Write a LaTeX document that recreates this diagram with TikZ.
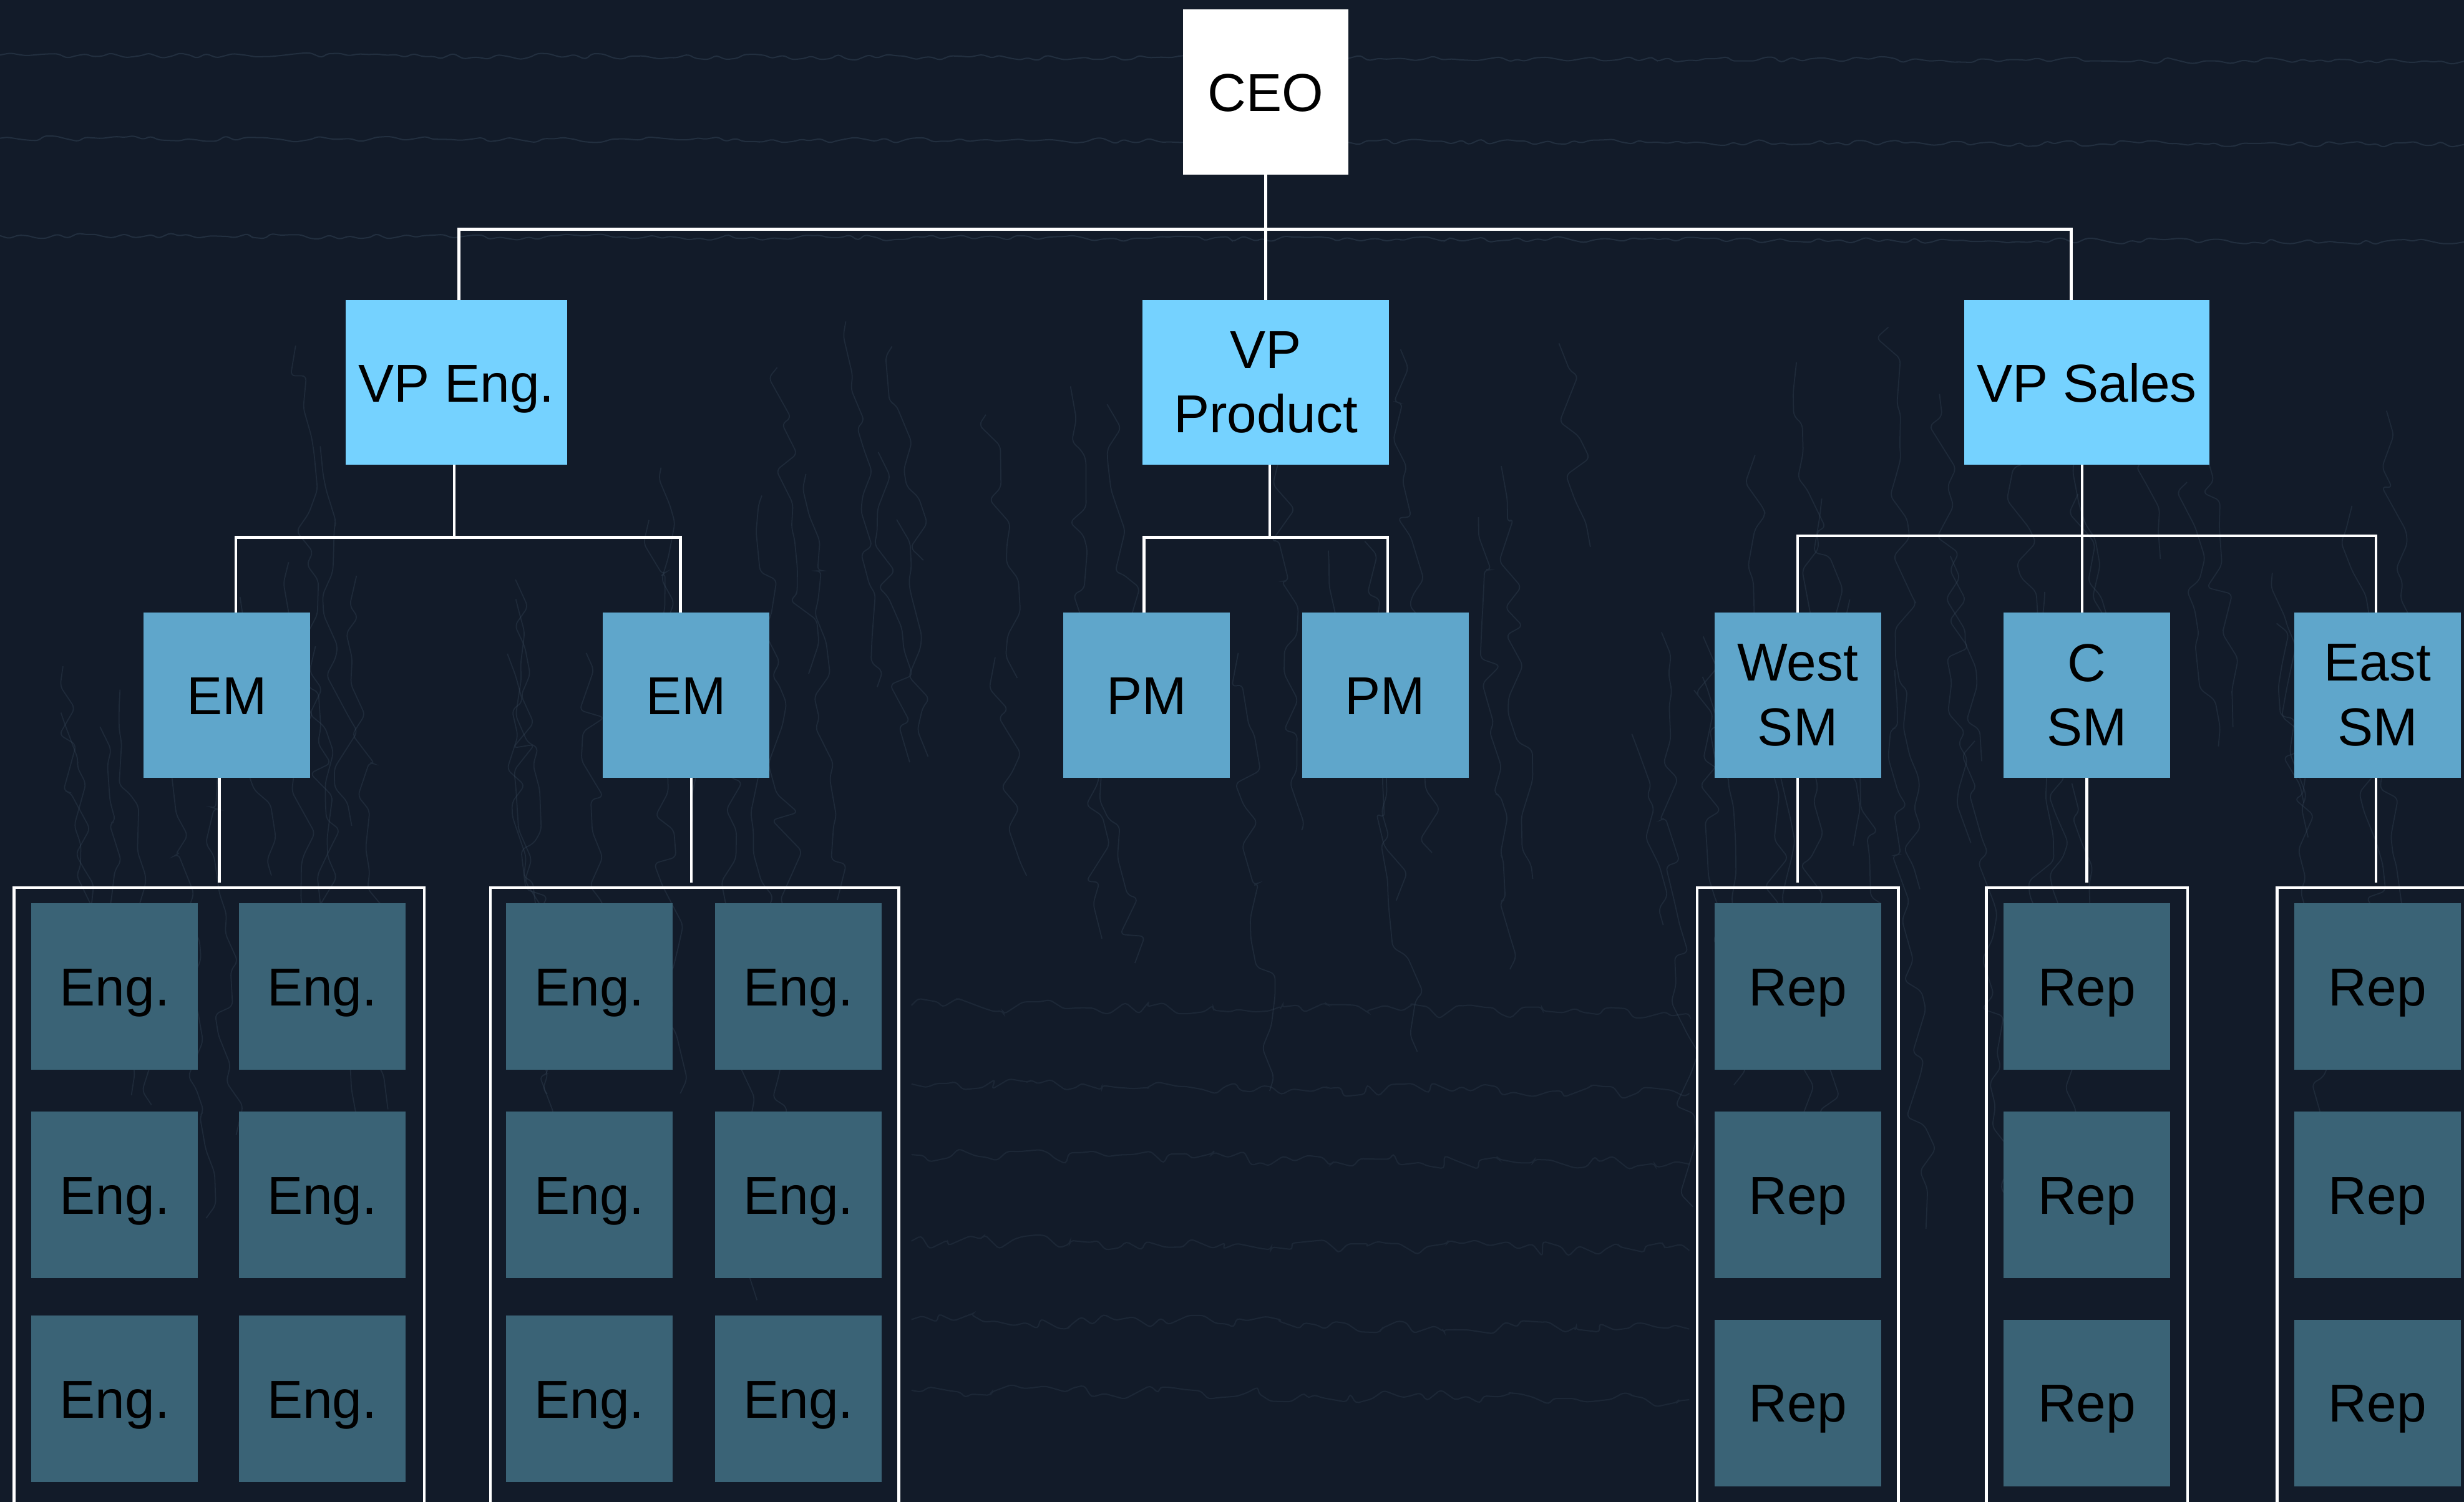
\documentclass[tikz,border=0pt]{standalone}
\usepackage{fontspec}
\setmainfont{Liberation Sans}
\usetikzlibrary{decorations.pathmorphing}
\definecolor{bg}{HTML}{121B29}
\definecolor{texture}{HTML}{3C4D60}
\definecolor{vpblue}{HTML}{75D2FF}
\definecolor{midblue}{HTML}{5FA6CB}
\definecolor{leafblue}{HTML}{3A6376}
\tikzset{
  box/.style={rectangle, inner sep=0pt, outer sep=0pt, align=center, text=black,
    font=\fontsize{34}{41}\selectfont},
  oneline/.style={text height=24.5pt, text depth=0pt},
  ceobox/.style={box, oneline, fill=white, minimum width=105pt, minimum height=105pt},
  vpbox/.style={box, fill=vpblue, minimum height=105pt},
  midbox/.style={box, fill=midblue, minimum width=106pt, minimum height=105pt},
  leafbox/.style={box, oneline, fill=leafblue, minimum width=106pt, minimum height=106pt},
  grpbox/.style={rectangle, draw=white, line width=1.8pt, inner sep=0pt, outer sep=0pt,
    minimum height=440pt, anchor=north},
  conn/.style={draw=white, line width=1.8pt},
  hwave/.style={draw=texture, opacity=0.4, line width=0.8pt, rounded corners=2pt,
    decorate, decoration={random steps, segment length=6pt, amplitude=2pt}},
  vwave/.style={draw=texture, opacity=0.3, line width=0.7pt, rounded corners=3pt,
    decorate, decoration={random steps, segment length=14pt, amplitude=9pt}}
}
\begin{document}
\begin{tikzpicture}[x=1pt,y=-1pt]
\useasboundingbox[fill=bg] (0,0) rectangle (1568,956);
\clip (0,0) rectangle (1568,956);

% faint background texture
\pgfmathsetseed{4242}
\foreach \yy in {35,88,150}{
  \draw[hwave] (0,\yy) -- (1568,\yy+4);
}
\foreach \yy in {640,690,735,790,840,885}{
  \draw[hwave, opacity=0.25, decoration={random steps, segment length=7pt, amplitude=5pt}] (580,\yy) -- (1075,\yy+6);
}
\foreach \k in {1,...,70}{
  \pgfmathsetmacro{\xa}{rnd*1568}
  \pgfmathsetmacro{\ya}{200+rnd*300}
  \pgfmathsetmacro{\len}{120+rnd*260}
  \draw[vwave] (\xa,\ya) -- (\xa+20,\ya+\len);
}

% level 0
\node[ceobox] (ceo) at (805.5,58.5) {CEO};
% level 1
\node[vpbox, oneline, minimum width=141pt] (vpe) at (290.5,243.5) {VP Eng.};
\node[vpbox, minimum width=157pt] (vpp) at (805.5,243.5) {VP\\Product};
\node[vpbox, oneline, minimum width=156pt] (vps) at (1328,243.5) {VP Sales};
% level 2
\node[midbox, oneline] (em1) at (144.5,442.5) {EM};
\node[midbox, oneline] (em2) at (436.5,442.5) {EM};
\node[midbox, oneline] (pm1) at (729.5,442.5) {PM};
\node[midbox, oneline] (pm2) at (881.5,442.5) {PM};
\node[midbox] (wsm) at (1144,442.5) {West\\SM};
\node[midbox] (csm) at (1328,442.5) {C\\SM};
\node[midbox] (esm) at (1513,442.5) {East\\SM};

% groups
\node[grpbox, minimum width=261pt] (g1) at (139.5,565) {};
\node[grpbox, minimum width=260pt] (g2) at (442,565) {};
\node[grpbox, minimum width=128pt] (g3) at (1144,565) {};
\node[grpbox, minimum width=128pt] (g4) at (1328,565) {};
\node[grpbox, minimum width=128pt] (g5) at (1513,565) {};

% engineers
\foreach \i/\y in {1/628,2/760.5,3/890.5}{
  \node[leafbox] (e1a\i) at (73,\y) {Eng.};
  \node[leafbox] (e1b\i) at (205,\y) {Eng.};
  \node[leafbox] (e2a\i) at (375,\y) {Eng.};
  \node[leafbox] (e2b\i) at (508,\y) {Eng.};
}
% reps
\foreach \i/\y in {1/628,2/760.5,3/893}{
  \node[leafbox] (rw\i) at (1144,\y) {Rep};
  \node[leafbox] (rc\i) at (1328,\y) {Rep};
  \node[leafbox] (re\i) at (1513,\y) {Rep};
}

% connectors level 0 -> 1
\coordinate (b0) at (805.5,146);
\draw[conn] (ceo.south) -- (vpp.north);
\draw[conn] ([xshift=1.5pt]vpe.north) |- (b0) -| ([xshift=-10pt]vps.north);

% VP Eng -> EMs
\coordinate (b1) at (289,342);
\draw[conn] (vpe.south -| b1) -- (b1);
\draw[conn] ([xshift=5.5pt]em1.north) |- (b1) -| ([xshift=-3.5pt]em2.north);

% VP Product -> PMs
\coordinate (b2) at (808,342);
\draw[conn] (vpp.south -| b2) -- (b2);
\draw[conn] ([xshift=-1.5pt]pm1.north) |- (b2) -| ([xshift=1.5pt]pm2.north);

% VP Sales -> SMs
\coordinate (b3) at (1325,341);
\draw[conn] (vps.south -| b3) -- (b3);
\draw[conn] (wsm.north) |- (b3) -| ([xshift=-1pt]esm.north);
\draw[conn] ([xshift=-3pt]csm.north) -- ([xshift=-3pt]csm.north |- b3);

% managers -> groups
\draw[conn, shorten >=3pt] (em1.south -| g1.north) -- (g1.north);
\draw[conn, shorten >=3pt] ([xshift=-2pt]em2.south -| g2.north) -- ([xshift=-2pt]g2.north);
\draw[conn, shorten >=3pt] (wsm.south) -- (g3.north);
\draw[conn, shorten >=3pt] (csm.south) -- (g4.north);
\draw[conn, shorten >=3pt] ([xshift=-1pt]esm.south) -- ([xshift=-1pt]g5.north);
\end{tikzpicture}
\end{document}
